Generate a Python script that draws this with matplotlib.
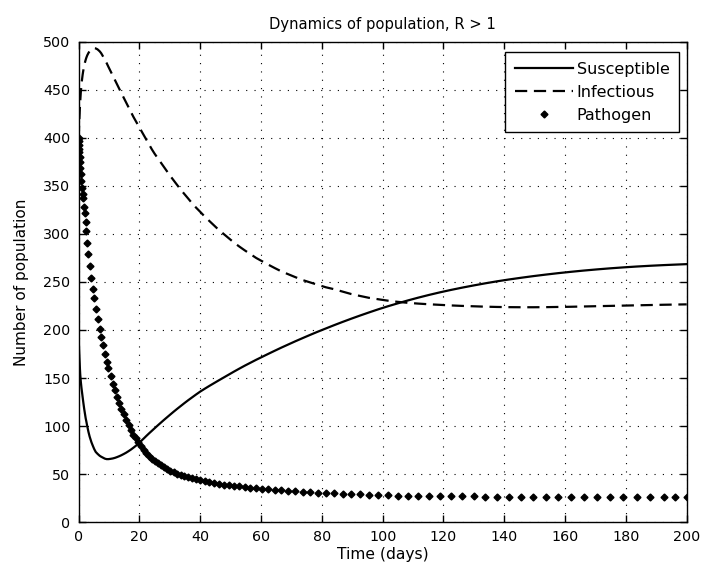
import matplotlib
matplotlib.use('Agg')
import matplotlib.pyplot as plt

plt.rcParams['font.family'] = ['DejaVu Sans']
plt.rcParams['font.size'] = 10

# Solver output times (days)
t = [0, 0.05, 0.1, 0.15, 0.2, 0.3, 0.4, 0.5, 0.7, 0.9, 1.1, 1.3, 1.5, 1.8, 2.0, 2.3, 2.5, 2.8, 3.2, 3.6,
     4.2, 4.7, 5.1, 5.6, 6.2, 6.9, 7.4, 8.0, 8.6, 9.2, 9.8, 10.5, 11.2, 11.9, 12.6, 13.3, 14.0, 14.8, 15.6, 16.4,
     17.2, 18.0, 18.8, 19.6, 20.5, 21.4, 22.3, 23.2, 24.1, 25.0, 26.0, 27.0, 28.0, 29.0, 30.0, 31.2, 32.4, 33.6, 34.8, 36.0,
     37.3, 38.6, 40.0, 41.5, 43.0, 44.5, 46.0, 47.7, 49.4, 51.1, 52.8, 54.6, 56.5, 58.4, 60.4, 62.4, 64.5, 66.7, 69.0, 71.3,
     73.7, 76.2, 78.7, 81.3, 84.0, 86.8, 89.6, 92.5, 95.5, 98.6, 101.8, 105.0, 108.3, 111.7, 115.2, 118.8, 122.4, 126.1, 129.9, 133.7,
     137.6, 141.5, 145.5, 149.5, 153.6, 157.7, 161.9, 166.1, 170.4, 174.7, 179.1, 183.5, 188.0, 192.5, 196.2, 200.0]

susceptible = [190, 186, 182, 178, 174, 167, 160, 154, 146, 140, 135, 130, 125, 118, 114, 108, 105, 100, 94, 89,
               83, 79, 76, 73, 71, 69, 68, 67, 66, 65.5, 65.5, 65.8, 66.2, 66.8, 67.6, 68.5, 69.5, 70.8, 72.2, 73.8,
               75.5, 77.4, 79.4, 81.5, 84.3, 87.0, 89.8, 92.5, 95.1, 97.7, 100.6, 103.4, 106.2, 108.9, 111.6, 114.8, 117.9, 120.9, 123.9, 126.8,
               129.8, 132.8, 135.9, 138.9, 141.8, 144.6, 147.4, 150.5, 153.6, 156.7, 159.7, 162.8, 165.9, 169.0, 172.1, 175.2, 178.4, 181.7, 185.0, 188.3,
               191.6, 195.0, 198.3, 201.6, 205.0, 208.4, 211.7, 215.0, 218.3, 221.6, 224.8, 227.8, 230.8, 233.7, 236.5, 239.2, 241.7, 244.1, 246.4, 248.6,
               250.7, 252.6, 254.4, 256.1, 257.7, 259.2, 260.6, 261.9, 263.1, 264.2, 265.2, 266.1, 266.9, 267.6, 268.1, 268.6]

infectious = [400, 405, 410, 414, 418, 425, 432, 438, 448, 455, 461, 466, 470, 475, 478, 481.5, 483.5, 486, 488.5, 490.5,
              492.3, 493.2, 493.5, 493.3, 492.3, 490.3, 488.3, 485, 481.5, 478, 474, 469.5, 465, 460.5, 456, 451.5, 447, 442, 437, 432,
              427, 422, 417.5, 413, 408, 403, 398, 393, 388, 383.5, 379, 374.5, 370, 365.5, 361, 356, 351, 346, 341.5, 337,
              332, 327.5, 323, 318, 313.5, 309, 304.5, 300, 295.5, 291, 287, 283, 279, 275, 271.5, 268, 264.5, 261, 258, 255,
              252, 249.5, 247, 244.5, 242.5, 240, 237.5, 235.5, 233.5, 232, 230.5, 229.3, 228.3, 227.5, 226.8, 226.2, 225.6, 225.1, 224.7, 224.3,
              224.0, 223.8, 223.7, 223.7, 223.8, 224.0, 224.2, 224.5, 224.8, 225.1, 225.4, 225.7, 226.0, 226.3, 226.5, 226.7]

pathogen = [400, 397, 393, 389, 385, 380, 375, 369, 362, 355, 348, 342, 337, 328, 322, 313, 303, 291, 279, 267,
            254, 243, 233, 222, 211, 201, 193, 184, 175, 167, 160, 152, 144, 137, 130, 124, 118, 112, 106, 101,
            96, 91, 87, 83, 79, 75, 72, 69, 66, 64, 61, 59, 57, 55, 53.5, 52, 50, 48.5, 47.5, 46.5,
            45.5, 44.5, 43.5, 42.5, 41.5, 40.5, 39.8, 39, 38.3, 37.6, 37, 36.4, 35.8, 35.2, 34.6, 34, 33.5, 33, 32.5, 32,
            31.5, 31, 30.6, 30.2, 29.9, 29.5, 29.1, 28.8, 28.5, 28.2, 27.8, 27.6, 27.4, 27.2, 27.0, 26.9, 26.8, 26.7, 26.6, 26.5,
            26.4, 26.4, 26.3, 26.3, 26.3, 26.2, 26.2, 26.2, 26.2, 26.1, 26.1, 26.1, 26.1, 26.1, 26.1, 26.1]

x_ticks = [0, 20, 40, 60, 80, 100, 120, 140, 160, 180, 200]
y_ticks = [0, 50, 100, 150, 200, 250, 300, 350, 400, 450, 500]

fig = plt.figure(figsize=(7.02, 5.72), dpi=100)
ax = fig.add_axes([0.1121, 0.0874, 0.8661, 0.8392])

ax.plot(t, susceptible, color='black', linestyle='-', linewidth=1.6, label='Susceptible')
ax.plot(t, infectious, color='black', linestyle=(0, (5.5, 3)), linewidth=1.6, label='Infectious')
ax.plot(t, pathogen, color='black', linestyle='none', marker='D', markersize=3.5, label='Pathogen')

ax.set_xlim(0, 200)
ax.set_ylim(0, 500)
ax.set_xticks(x_ticks)
ax.set_yticks(y_ticks)
ax.tick_params(direction='in', top=True, right=True, length=5, width=1, pad=6, labelsize=10.3)
ax.grid(True, color='black', linestyle=(0, (1, 6.5)), linewidth=0.8)
for s in ax.spines.values():
    s.set_linewidth(1)

ax.set_title('Dynamics of population, R > 1', fontsize=10.6, pad=9)
ax.set_xlabel('Time (days)', fontsize=11.2, labelpad=2)
ax.set_ylabel('Number of population', fontsize=11, labelpad=10)

leg = ax.legend(loc='upper right', fancybox=False, framealpha=1, edgecolor='black',
                fontsize=11.5, handlelength=3.6, handletextpad=0.25, borderpad=0.6, labelspacing=0.5,
                borderaxespad=0, bbox_to_anchor=(0.9873, 0.979))
leg.get_frame().set_linewidth(1)

fig.savefig('out.png', dpi=100)
